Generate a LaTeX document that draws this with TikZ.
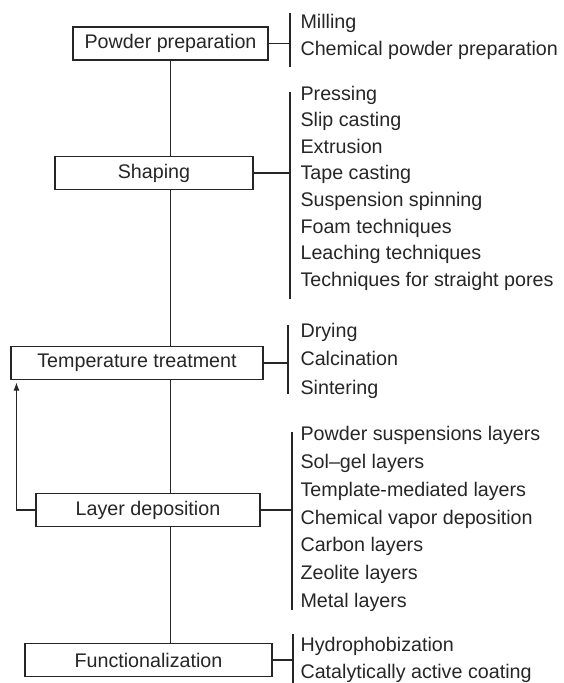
\documentclass[tikz,border=0pt]{standalone}
\usepackage{fontspec}
\setmainfont{Liberation Sans}
\usetikzlibrary{arrows.meta}
\definecolor{ink}{HTML}{262626}

\begin{document}
\begin{tikzpicture}[x=1pt, y=-1pt, color=ink, line width=1.1pt,
        stage/.style={draw, fill=white, minimum height=33pt, inner sep=0pt,
            font=\fontsize{19.7}{23}\selectfont},
        item/.style={anchor=west, inner sep=0pt, text height=13.5pt, text depth=0pt,
            font=\fontsize{19.7}{23}\selectfont},
        fb/.style={-{Latex[length=8pt,width=6pt]}}]
    \useasboundingbox (0,0) rectangle (563,683);

    % process stages
    \node[stage, minimum width=195pt] (pp) at (170.5,43.5) {Powder preparation};
    \node[stage, minimum width=198pt] (sh) at (154,173) {Shaping};
    \node[stage, minimum width=252pt] (tt) at (137,363) {Temperature treatment};
    \node[stage, minimum width=224pt] (ld) at (148,510) {Layer deposition};
    \node[stage, minimum width=247pt] (fn) at (148.5,660) {Functionalization};

    % main line through the stages
    \foreach \a/\b in {pp/sh, sh/tt, tt/ld, ld/fn}
        \draw (\a.south -| pp.south) -- (\b.north -| pp.south);

    % back to temperature treatment after deposition
    \draw[fb] (ld.west) -| ([xshift=6pt,yshift=-2.5pt]tt.south west);

    % brackets
    \coordinate (b1t) at (290,13);  \coordinate (b1b) at (290,67);
    \coordinate (b2t) at (290,92);  \coordinate (b2b) at (290,299);
    \coordinate (b3t) at (288,325); \coordinate (b3b) at (288,394);
    \coordinate (b4t) at (292,432); \coordinate (b4b) at (292,610);
    \coordinate (b5t) at (293,634); \coordinate (b5b) at (293,683);
    \foreach \s/\n in {pp/1, sh/2, tt/3, ld/4, fn/5} {
        \draw (b\n t) -- (b\n b);
        \draw (\s.east) -- (\s.east -| b\n t);
    }

    % methods for each stage
    \foreach \t [count=\i from 0] in {Milling, Chemical powder preparation}
        \node[item] (m1-\i) at (300,{21.7+26.6*\i}) {\t};
    \foreach \t [count=\i from 0] in {Pressing, Slip casting, Extrusion, Tape casting,
            Suspension spinning, Foam techniques, Leaching techniques,
            Techniques for straight pores}
        \node[item] (m2-\i) at (300,{93.3+26.6*\i}) {\t};
    \foreach \t [count=\i from 0] in {Drying, Calcination, Sintering}
        \node[item] (m3-\i) at (300,{330.7+28.3*\i}) {\t};
    \foreach \t [count=\i from 0] in {Powder suspensions layers, Sol--gel layers,
            Template-mediated layers, Chemical vapor deposition, Carbon layers,
            Zeolite layers, Metal layers}
        \node[item] (m4-\i) at (300,{434+27.8*\i}) {\t};
    \foreach \t [count=\i from 0] in {Hydrophobization, Catalytically active coating}
        \node[item] (m5-\i) at (300,{645+27*\i}) {\t};
\end{tikzpicture}
\end{document}
